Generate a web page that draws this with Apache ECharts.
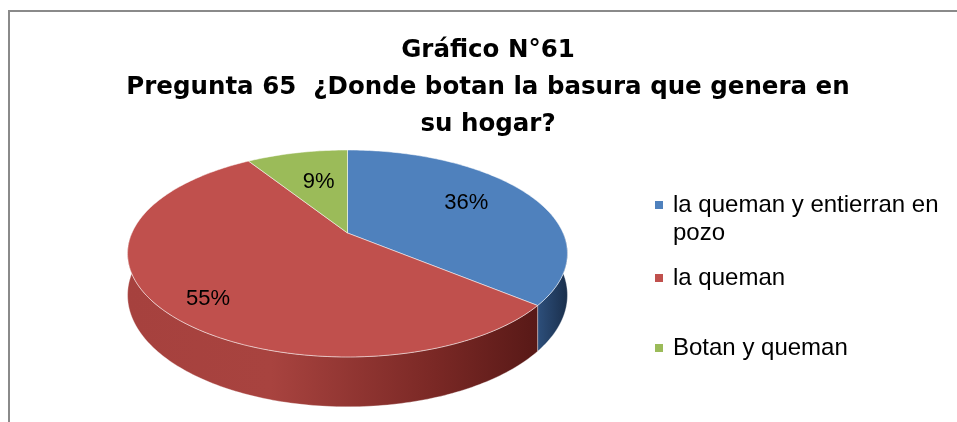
<!DOCTYPE html>
<html>
<head>
<meta charset="utf-8">
<script src="https://cdn.jsdelivr.net/npm/echarts@6/dist/echarts.min.js"></script>
<style>
  html, body { margin: 0; padding: 0; background: #ffffff; }
  #main { width: 957px; height: 422px; }
</style>
</head>
<body>
<div id="main"></div>
<script>
// Survey answers and their shares (percent)
const categories = ['la queman y entierran en pozo', 'la queman', 'Botan y queman'];
const values = [36, 55, 9];

const titleLines = ['Gráfico N°61', 'Pregunta 65  ¿Donde botan la basura que genera en', 'su hogar?'];

// Styling
const topColors = ['#4f81bd', '#c0504d', '#9bbb59'];
const sideStops = [
  [[0, '#2d4f7b'], [1, '#1a2f4c']],
  [[0, '#a6413e'], [0.35, '#a8433f'], [0.75, '#7a2825'], [1, '#581917']],
  [[0, '#7f9c45'], [1, '#55702b']]
];
// label placement: fraction of the radius plus a small pixel nudge
const labelRadius = [0.67, 0.81, 0.61];
const labelNudge = [[-5, -3], [7, 6], [4, 1]];

// Tilted disc with a little perspective: front half appears larger than the back
const PIE = { cx: 347.5, cy: 233, rx: 215.6, ry: 99.4, k: 0.198, depth: 40 };

function project(theta, r, drop) {
  const u = r * Math.sin(theta);
  const v = -r * Math.cos(theta);
  const s = 1 / (1 - PIE.k * v);
  return [PIE.cx + PIE.rx * u * s, PIE.cy + PIE.ry * v * s + PIE.depth * drop * s];
}

function arc(a0, a1, drop) {
  const n = Math.max(2, Math.ceil((a1 - a0) / (Math.PI / 180)));
  const pts = [];
  for (let j = 0; j <= n; j++) {
    pts.push(project(a0 + (a1 - a0) * j / n, 1, drop));
  }
  return pts;
}

function makeRenderItem(i) {
  return function (params, api) {
    const total = values.reduce((a, b) => a + b, 0);
    let before = 0;
    for (let j = 0; j < i; j++) before += values[j];
    const val = api.value(0);
    const a0 = before / total * Math.PI * 2;
    const a1 = (before + val) / total * Math.PI * 2;
    const children = [];

    // outer wall, only the part facing the viewer
    const s0 = Math.max(a0, Math.PI / 2);
    const s1 = Math.min(a1, Math.PI * 1.5);
    if (s1 > s0) {
      const topPts = arc(s0, s1, 0);
      const botPts = arc(s0, s1, 1).reverse();
      const pts = topPts.concat(botPts);
      const xs = pts.map(p => p[0]);
      const minX = Math.min.apply(null, xs), maxX = Math.max.apply(null, xs);
      children.push({
        type: 'polygon',
        shape: { points: pts },
        style: {
          fill: {
            type: 'linear', x: minX, y: 0, x2: maxX, y2: 0, global: true,
            colorStops: sideStops[i].map(s => ({ offset: s[0], color: s[1] }))
          },
          stroke: 'rgba(255,255,255,0.35)',
          lineWidth: 1
        }
      });
    }

    // top face
    children.push({
      type: 'polygon',
      shape: { points: [project(0, 0, 0)].concat(arc(a0, a1, 0)) },
      style: { fill: topColors[i], stroke: 'rgba(255,255,255,0.5)', lineWidth: 1 }
    });

    // percentage label
    const mid = (a0 + a1) / 2;
    const p = project(mid, labelRadius[i], 0);
    children.push({
      type: 'text',
      style: {
        text: Math.round(val / total * 100) + '%',
        x: p[0] + labelNudge[i][0], y: p[1] + labelNudge[i][1],
        align: 'center', verticalAlign: 'middle',
        fill: '#000000',
        font: '22px "Liberation Sans", Arial, sans-serif'
      }
    });

    return { type: 'group', children: children };
  };
}

const chart = echarts.init(document.getElementById('main'), null, { renderer: 'canvas' });

const legendBase = {
  orient: 'vertical',
  left: 655,
  padding: 0,
  icon: 'rect',
  itemWidth: 8,
  itemHeight: 8,
  selectedMode: false,
  textStyle: {
    color: '#000000',
    fontSize: 24,
    fontFamily: '"Liberation Sans", Arial, sans-serif',
    lineHeight: 28,
    padding: [0, 0, 0, 5]
  }
};

chart.setOption({
  animation: false,
  backgroundColor: '#ffffff',
  title: {
    text: titleLines.join('\n'),
    left: 488,
    top: 32,
    padding: 0,
    textAlign: 'center',
    textStyle: {
      fontFamily: '"DejaVu Sans", sans-serif',
      fontWeight: 'bold',
      fontSize: 24.5,
      lineHeight: 37,
      color: '#000000'
    }
  },
  legend: [
    Object.assign({}, legendBase, {
      data: [categories[0]],
      top: 163,
      // blank first line keeps the marker level with the first text line
      formatter: name => '\n' + name,
      textStyle: Object.assign({}, legendBase.textStyle, { width: 275, overflow: 'break' })
    }),
    Object.assign({}, legendBase, { data: [categories[1]], top: 264 }),
    Object.assign({}, legendBase, { data: [categories[2]], top: 334 })
  ],
  graphic: [{
    type: 'rect',
    shape: { x: 9, y: 11, width: 1000, height: 500 },
    style: { fill: 'none', stroke: '#8a8a8a', lineWidth: 2 },
    silent: true,
    z: -1
  }],
  series: categories.map((name, i) => ({
    type: 'custom',
    name: name,
    coordinateSystem: 'none',
    itemStyle: { color: topColors[i] },
    data: [values[i]],
    renderItem: makeRenderItem(i),
    silent: true
  }))
});
</script>
</body>
</html>
